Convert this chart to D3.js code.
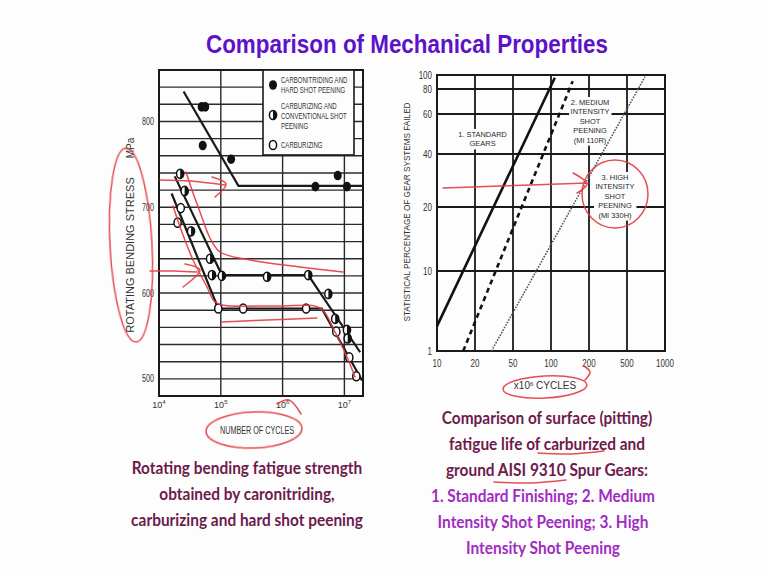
<!DOCTYPE html>
<html><head><meta charset="utf-8">
<script src="https://cdn.jsdelivr.net/npm/d3@7"></script>
<style>
html,body{margin:0;padding:0;background:#fdfdfd;}
svg{display:block;}
</style></head>
<body>
<svg id="slide" width="768" height="577"></svg>
<script>
// ---------- Left chart: rotating bending fatigue (S-N curves) ----------
const stressTicks = [500, 600, 700, 800];
const cycleTicksSN = [1e4, 1e5, 1e6, 1e7];
const cycleTickExpSN = ["4", "5", "6", "7"];

// [cycles, stress MPa]
const carbonitridedPts = [[4.9e4,817],[5.6e4,817],[5.1e4,772],[1.47e5,756],[3.4e6,724],[7.8e6,737],[1.1e7,724]];
const carbonitridedLine = [[2.5e4,835],[1.93e5,725],[2e7,725]];
const peenedPts = [[2.2e4,739],[2.6e4,719],[3.3e4,672],[6.7e4,640],[7.2e4,621],[1.04e5,620],[5.6e5,619],[2.6e6,621],[5.5e6,599],[7.1e6,570],[1.1e7,557],[1.13e7,547]];
const peenedLine = [[1.8e4,736],[1.04e5,621],[2.6e6,621],[1.8e7,531]];
const carburizedPts = [[2.25e4,699],[2.0e4,682],[9.1e4,582],[2.3e5,582],[2.4e6,582],[7.4e6,555],[1.2e7,525],[1.56e7,503]];
const carburizedLine = [[1.6e4,716],[9.1e4,582],[4.3e6,582],[1.93e7,498]];

const legendItems = [
  {kind: "filled", lines: ["CARBONITRIDING AND", "HARD SHOT PEENING"]},
  {kind: "half", lines: ["CARBURIZING AND", "CONVENTIONAL SHOT", "PEENING"]},
  {kind: "open", lines: ["CARBURIZING"]}
];

// ---------- Right chart: surface (pitting) fatigue life ----------
const lifeTicks = [10, 20, 50, 100, 200, 500, 1000];
const failedTicks = [1, 10, 20, 40, 60, 80, 100];
// [cycles x10^6, % failed]
const standardGears = [[10, 3.8], [110, 96]];
const mediumPeening = [[16.9, 1], [157, 91]];
const highPeening = [[33, 1], [737, 97.6]];

// label anchor: [cycles x10^6, % failed] of the first text line
const curveLabels = [
  {lines: ["1. STANDARD", "GEARS"], at: [26, 48.5]},
  {lines: ["2. MEDIUM", "INTENSITY", "SHOT", "PEENING", "(MI 110R)"], at: [208, 67.2]},
  {lines: ["3. HIGH", "INTENSITY", "SHOT", "PEENING", "(MI 330H)"], at: [405, 30.2]}
];

// ---------- Slide text ----------
const titleText = "Comparison of Mechanical Properties";
const leftCaption = ["Rotating bending fatigue strength", "obtained by caronitriding,", "carburizing and hard shot peening"];
const rightCaption = ["Comparison of surface (pitting)", "fatigue life of carburized and", "ground AISI 9310 Spur Gears:"];
const rightCaptionList = ["1. Standard Finishing; 2. Medium", "Intensity Shot Peening; 3. High", "Intensity Shot Peening"];

// ---------- Pen marks (screen coordinates) ----------
const penEllipses = [
  {cx:131, cy:245, rx:21, ry:97, rot:-3},
  {cx:254, cy:430, rx:48, ry:18, rot:-2},
  {cx:545, cy:387, rx:42, ry:11, rot:-3},
  {cx:615, cy:194, rx:33, ry:34, rot:0}
];
const penStrokes = [
  [[160,180],[190,181],[225,185]],
  [[212,177],[226,184],[215,197]],
  [[186,172],[192,190],[200,212],[210,238],[220,252],[250,260],[300,267],[343,272]],
  [[150,271],[175,271],[197,272]],
  [[185,264],[200,270],[183,287]],
  [[173,206],[183,235],[193,260],[207,287],[214,301],[222,305],[280,306],[320,308],[334,330],[347,357],[355,377]],
  [[222,322],[267,320],[317,318]],
  [[277,404],[289,400],[301,414]],
  [[443,188],[500,186],[587,183]],
  [[573,173],[587,184],[577,193]],
  [[585,380],[590,372],[584,366]],
  [[538,453],[570,454],[604,451]],
  [[494,482],[530,483],[566,480]]
];

// ======================================================================
const svg = d3.select("#slide");
const ink = "#1a1a1a";
const chartFont = "'Liberation Sans', Arial, sans-serif";
const chartText = "#333";

function condense(sel, k) {
  sel.each(function () {
    const w = this.getComputedTextLength();
    d3.select(this).attr("textLength", w * k).attr("lengthAdjust", "spacingAndGlyphs");
  });
}

// Title
svg.append("text")
  .attr("x", 407).attr("y", 53).attr("text-anchor", "middle")
  .attr("font-family", chartFont).attr("font-weight", "bold").attr("font-size", 25)
  .attr("fill", "#5d12c9")
  .attr("textLength", 402).attr("lengthAdjust", "spacingAndGlyphs")
  .text(titleText);

// ---------- Left chart ----------
const xL = d3.scaleLog().domain([1e4, 2e7]).range([159, 363]);
const yL = d3.scaleLinear().domain([480, 860]).range([396, 70]);
const gL = svg.append("g");

gL.selectAll(".hg").data(d3.range(500, 860, 20)).join("line")
  .attr("x1", xL.range()[0]).attr("x2", xL.range()[1])
  .attr("y1", d => yL(d)).attr("y2", d => yL(d))
  .attr("stroke", "#2a2a2a").attr("stroke-width", 1.4);
gL.selectAll(".vg").data(cycleTicksSN.slice(1)).join("line")
  .attr("x1", d => xL(d)).attr("x2", d => xL(d))
  .attr("y1", yL.range()[0]).attr("y2", yL.range()[1])
  .attr("stroke", "#2a2a2a").attr("stroke-width", 1.4);
gL.append("rect")
  .attr("x", xL.range()[0]).attr("y", yL.range()[1])
  .attr("width", xL.range()[1] - xL.range()[0]).attr("height", yL.range()[0] - yL.range()[1])
  .attr("fill", "none").attr("stroke", ink).attr("stroke-width", 2);

// Legend box (covers the grid behind it)
const lgX = 263, lgY = 70, lgW = 91, lgH = 85;
gL.append("rect").attr("x", lgX).attr("y", lgY).attr("width", lgW).attr("height", lgH)
  .attr("fill", "#fdfdfd").attr("stroke", ink).attr("stroke-width", 1.6);

function drawMarker(g, kind, x, y) {
  const rx = 3.6, ry = 4.6;
  const m = g.append("g").attr("transform", `translate(${x},${y})`);
  if (kind === "filled") {
    m.append("ellipse").attr("rx", rx + 0.4).attr("ry", ry + 0.2).attr("fill", "#111");
  } else {
    m.append("ellipse").attr("rx", rx).attr("ry", ry)
      .attr("fill", "#fff").attr("stroke", "#111").attr("stroke-width", 1.5);
    if (kind === "half") {
      m.append("path").attr("d", `M0,${-ry} A${rx},${ry} 0 0 1 0,${ry} Z`).attr("fill", "#111");
    }
  }
}

const lineL = d3.line().x(d => xL(d[0])).y(d => yL(d[1]));
[carbonitridedLine, peenedLine, carburizedLine].forEach(l => {
  gL.append("path").attr("d", lineL(l)).attr("fill", "none")
    .attr("stroke", ink).attr("stroke-width", 2.2);
});
carbonitridedPts.forEach(p => drawMarker(gL, "filled", xL(p[0]), yL(p[1])));
peenedPts.forEach(p => drawMarker(gL, "half", xL(p[0]), yL(p[1])));
carburizedPts.forEach(p => drawMarker(gL, "open", xL(p[0]), yL(p[1])));

// legend entries
const legendRows = [[85, [83, 93]], [115, [108.5, 118.5, 128.5]], [145, [148]]];
legendItems.forEach((it, i) => {
  drawMarker(gL, it.kind, lgX + 10, legendRows[i][0]);
  it.lines.forEach((t, j) => {
    gL.append("text").attr("x", lgX + 18).attr("y", legendRows[i][1][j])
      .attr("font-family", chartFont).attr("font-size", 8.4).attr("fill", chartText)
      .text(t).call(condense, 0.72);
  });
});

// y ticks
gL.selectAll(".yt").data(stressTicks).join("text")
  .attr("x", 154).attr("y", d => yL(d) + 3.5).attr("text-anchor", "end")
  .attr("font-family", chartFont).attr("font-size", 10).attr("fill", chartText)
  .text(d => d).call(condense, 0.72);
// x ticks as powers of ten
cycleTicksSN.forEach((v, i) => {
  const t = gL.append("text").attr("x", xL(v)).attr("y", 408).attr("text-anchor", "middle")
    .attr("font-family", chartFont).attr("font-size", 9).attr("fill", chartText);
  t.append("tspan").text("10");
  t.append("tspan").attr("dy", -4).attr("font-size", 6).text(cycleTickExpSN[i]);
});
gL.append("text").attr("x", 257).attr("y", 434).attr("text-anchor", "middle")
  .attr("font-family", chartFont).attr("font-size", 10).attr("fill", chartText)
  .text("NUMBER OF CYCLES").call(condense, 0.72);
gL.append("text").attr("transform", "translate(134,255) rotate(-90)").attr("text-anchor", "middle")
  .attr("font-family", chartFont).attr("font-size", 11).attr("fill", chartText)
  .text("ROTATING BENDING STRESS");
gL.append("text").attr("transform", "translate(134,148) rotate(-90)").attr("text-anchor", "middle")
  .attr("font-family", chartFont).attr("font-size", 10).attr("fill", chartText)
  .text("MPa");

// ---------- Right chart ----------
const xR = d3.scaleLinear().domain(lifeTicks).range([437, 475, 513, 551, 589, 627, 665]);
const yR = d3.scaleLinear().domain(failedTicks).range([351, 271, 207, 154, 114, 89, 75]);
const gR = svg.append("g");

gR.selectAll(".hg").data(failedTicks.slice(1, -1)).join("line")
  .attr("x1", 437).attr("x2", 665).attr("y1", d => yR(d)).attr("y2", d => yR(d))
  .attr("stroke", ink).attr("stroke-width", 1.8);
gR.selectAll(".vg").data(lifeTicks.slice(1, -1)).join("line")
  .attr("x1", d => xR(d)).attr("x2", d => xR(d)).attr("y1", 75).attr("y2", 351)
  .attr("stroke", ink).attr("stroke-width", 1.8);
gR.append("rect").attr("x", 437).attr("y", 75).attr("width", 228).attr("height", 276)
  .attr("fill", "none").attr("stroke", ink).attr("stroke-width", 2);

// curve labels (white backing hides the grid behind)
curveLabels.forEach(lb => {
  const g = gR.append("g");
  const cx = xR(lb.at[0]);
  const cy = yR(lb.at[1]);
  const lh = 9.4;
  lb.lines.forEach((t, j) => g.append("text")
    .attr("x", cx).attr("y", cy + j * lh).attr("text-anchor", "middle")
    .attr("font-family", chartFont).attr("font-size", 8.1).attr("fill", "#2a2a2a")
    .text(t).call(condense, 0.92));
  const b = g.node().getBBox();
  g.insert("rect", ":first-child").attr("x", b.x - 1.5).attr("y", b.y - 1)
    .attr("width", b.width + 3).attr("height", b.height + 2).attr("fill", "#fdfdfd");
});

const lineR = d3.line().x(d => xR(d[0])).y(d => yR(d[1]));
gR.append("path").attr("d", lineR(standardGears)).attr("fill", "none")
  .attr("stroke", "#111").attr("stroke-width", 2.6);
gR.append("path").attr("d", lineR(mediumPeening)).attr("fill", "none")
  .attr("stroke", "#111").attr("stroke-width", 2.6).attr("stroke-dasharray", "5,4");
gR.append("path").attr("d", lineR(highPeening)).attr("fill", "none")
  .attr("stroke", "#555").attr("stroke-width", 1.6).attr("stroke-dasharray", "1.6,1.3");

gR.selectAll(".yt").data(failedTicks).join("text")
  .attr("x", 432).attr("y", d => yR(d) + 3.5).attr("text-anchor", "end")
  .attr("font-family", chartFont).attr("font-size", 10).attr("fill", chartText)
  .text(d => d).call(condense, 0.8);
gR.selectAll(".xt").data(lifeTicks).join("text")
  .attr("x", d => xR(d)).attr("y", 367).attr("text-anchor", "middle")
  .attr("font-family", chartFont).attr("font-size", 10).attr("fill", chartText)
  .text(d => d).call(condense, 0.8);
{
  const t = gR.append("text").attr("x", 545).attr("y", 389).attr("text-anchor", "middle")
    .attr("font-family", chartFont).attr("font-size", 10).attr("fill", chartText);
  t.append("tspan").text("x10");
  t.append("tspan").attr("dy", -3.5).attr("font-size", 6).text("6");
  t.append("tspan").attr("dy", 3.5).text(" CYCLES");
}
gR.append("text").attr("transform", "translate(410,212) rotate(-90)").attr("text-anchor", "middle")
  .attr("font-family", chartFont).attr("font-size", 9.5).attr("fill", chartText)
  .text("STATISTICAL PERCENTAGE OF GEAR SYSTEMS FAILED").call(condense, 0.86);

// ---------- Captions ----------
const capFont = "Lato, 'Open Sans', sans-serif";
function caption(lines, x, y0, color) {
  lines.forEach((t, i) => {
    svg.append("text").attr("x", x).attr("y", y0 + i * 26).attr("text-anchor", "middle")
      .attr("font-family", capFont).attr("font-weight", "bold").attr("font-size", 16.5)
      .attr("fill", color).text(t).call(condense, 0.935);
  });
}
caption(leftCaption, 247, 474, "#6c1b4c");
caption(rightCaption, 547, 424, "#6c1b4c");
caption(rightCaptionList, 543, 502, "#a02cc2");

// ---------- Red pen marks ----------
const pen = svg.append("g").attr("fill", "none").attr("stroke", "#e23a3f")
  .attr("stroke-width", 1.5).attr("stroke-linecap", "round").attr("opacity", 0.9);
penEllipses.forEach(e => {
  pen.append("ellipse").attr("cx", e.cx).attr("cy", e.cy).attr("rx", e.rx).attr("ry", e.ry)
    .attr("transform", `rotate(${e.rot},${e.cx},${e.cy})`);
});
const penLine = d3.line().curve(d3.curveCatmullRom);
penStrokes.forEach(s => pen.append("path").attr("d", penLine(s)));
</script>
</body></html>
